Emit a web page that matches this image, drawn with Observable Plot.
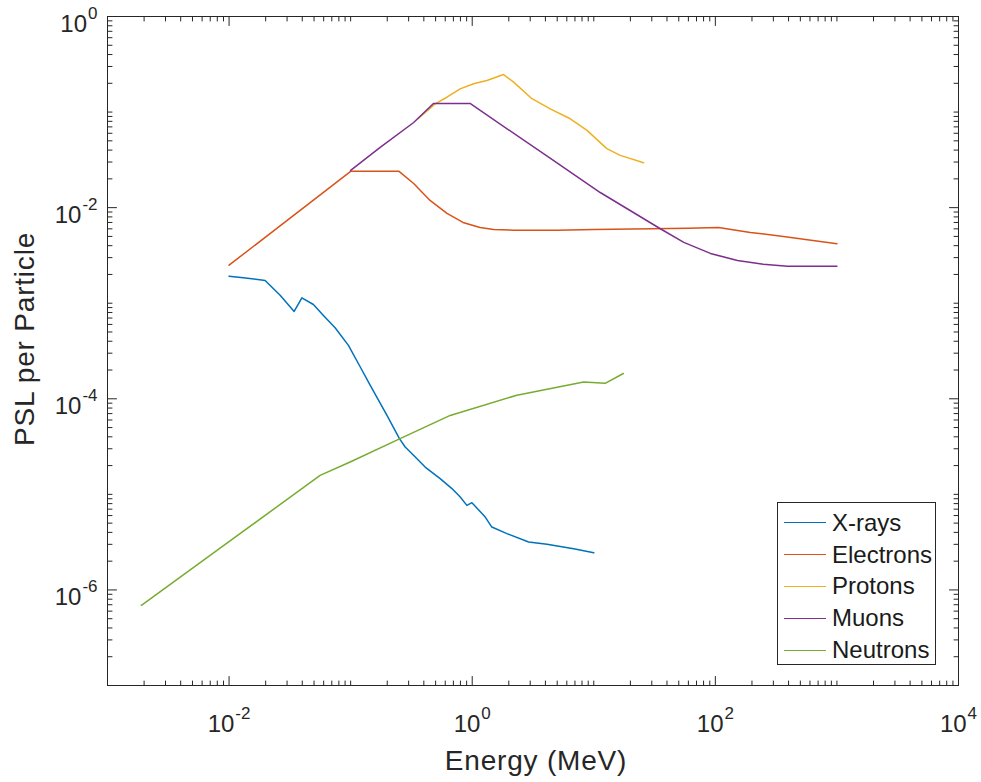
<!DOCTYPE html>
<html>
<head>
<meta charset="utf-8">
<script src="https://cdn.jsdelivr.net/npm/d3@7"></script>
<script src="https://cdn.jsdelivr.net/npm/@observablehq/plot@0.6"></script>
<style>
html, body { margin: 0; padding: 0; background: #fff; }
#wrap { position: relative; width: 981px; height: 782px; font-family: "Liberation Sans", Arial, Helvetica, sans-serif; }
#wrap svg { display: block; }
#legend { position: absolute; left: 777px; top: 502px; width: 159px; height: 163px; border: 1px solid #262626; background: #fff; padding-top: 4px; box-sizing: border-box; }
.row { height: 31.8px; display: flex; align-items: center; }
.swatch { width: 42px; height: 0; border-top: 1.5px solid; margin-left: 6px; }
.lab { margin-left: 6px; font-size: 24px; color: #1a1a1a; line-height: 1; }
</style>
</head>
<body>
<div id="wrap"></div>
<script>
// ---- series ----
const seriesNames = ["X-rays", "Electrons", "Protons", "Muons", "Neutrons"];
const seriesColors = ["#0072BD", "#D95319", "#EDB120", "#7E2F8E", "#77AC30"];

const xraysEnergy = [0.01, 0.0131, 0.0198, 0.0263, 0.0343, 0.0397, 0.0494, 0.0597, 0.0745, 0.0959, 0.120, 0.145, 0.199, 0.252, 0.281, 0.329, 0.410, 0.545, 0.681, 0.797, 0.904, 0.995, 1.28, 1.45, 1.93, 2.91, 4.12, 6.83, 10];
const xraysPSL = [1.92e-3, 1.85e-3, 1.73e-3, 1.21e-3, 8.2e-4, 1.14e-3, 9.7e-4, 7.45e-4, 5.54e-4, 3.62e-4, 2.15e-4, 1.38e-4, 6.7e-5, 3.83e-5, 3.13e-5, 2.56e-5, 1.93e-5, 1.46e-5, 1.15e-5, 9.4e-6, 7.67e-6, 8.18e-6, 5.78e-6, 4.55e-6, 3.88e-6, 3.17e-6, 3.0e-6, 2.70e-6, 2.45e-6];

const electronsEnergy = [0.01, 0.1, 0.25, 0.33, 0.45, 0.62, 0.84, 1.16, 1.5, 2.2, 5, 10, 30, 60, 106, 194, 363, 1000];
const electronsPSL = [2.5e-3, 0.024, 0.024, 0.0179, 0.0119, 0.0087, 0.0070, 0.0062, 0.0059, 0.0058, 0.0058, 0.0059, 0.0060, 0.0061, 0.0062, 0.0055, 0.0050, 0.0042];

const protonsEnergy = [0.36, 0.496, 0.619, 0.796, 1.026, 1.32, 1.81, 2.19, 3.10, 4.38, 6.41, 8.80, 12.8, 16.5, 25.7];
const protonsPSL = [0.0857, 0.122, 0.143, 0.175, 0.198, 0.214, 0.247, 0.206, 0.138, 0.108, 0.0851, 0.0643, 0.0414, 0.0352, 0.0295];

const muonsEnergy = [0.1, 0.175, 0.33, 0.48, 0.96, 4.4, 11.3, 35, 55, 91, 152, 248, 392, 1000];
const muonsPSL = [0.0245, 0.0427, 0.0778, 0.123, 0.123, 0.0327, 0.0144, 0.00605, 0.00433, 0.00332, 0.0028, 0.00255, 0.00243, 0.00243];

const neutronsEnergy = [0.0019, 0.0108, 0.0561, 0.099, 0.255, 0.659, 2.33, 8.25, 12.4, 17.5];
const neutronsPSL = [6.9e-7, 3.44e-6, 1.58e-5, 2.18e-5, 3.83e-5, 6.7e-5, 1.09e-4, 1.50e-4, 1.45e-4, 1.84e-4];

// ---- axes ----
const xDomain = [1e-3, 1e4];
const yDomain = [1e-7, 1];
const xMajorTicks = [1e-2, 1, 1e2, 1e4];
const yMajorTicks = [1e-6, 1e-4, 1e-2, 1];
const xTickLabels = ["10^-2", "10^0", "10^2", "10^4"];
const yTickLabels = ["10^-6", "10^-4", "10^-2", "10^0"];
const xLabel = "Energy (MeV)";
const yLabel = "PSL per Particle";

// ---- build table ----
const energies = [xraysEnergy, electronsEnergy, protonsEnergy, muonsEnergy, neutronsEnergy];
const psls = [xraysPSL, electronsPSL, protonsPSL, muonsPSL, neutronsPSL];
const rows = [];
seriesNames.forEach((name, s) => {
  energies[s].forEach((e, i) => rows.push({series: name, energy: e, psl: psls[s][i]}));
});

// minor ticks: 2..9 of every decade, plus the unlabeled decades
function minorTicks(lo, hi, majors) {
  const out = [];
  for (let e = lo; e < hi; e++) {
    for (let k = 1; k < 10; k++) {
      const v = +(k * Math.pow(10, e)).toPrecision(6);
      if (!majors.some(m => Math.abs(m - v) / v < 1e-9)) out.push(v);
    }
  }
  return out;
}
const xMinorTicks = minorTicks(-3, 4, xMajorTicks);
const yMinorTicks = minorTicks(-7, 0, yMajorTicks);

const axisColor = "#262626";
const tickShape = {draw(ctx, l) { ctx.moveTo(0, 0); ctx.lineTo(0, -l); }};
const vx = (vals, len) => [
  Plot.vector(vals, {x: d => d, frameAnchor: "bottom", length: len, rotate: 0, anchor: "start", shape: tickShape, stroke: axisColor, strokeWidth: 1}),
  Plot.vector(vals, {x: d => d, frameAnchor: "top", length: len, rotate: 180, anchor: "start", shape: tickShape, stroke: axisColor, strokeWidth: 1})
];
const vy = (vals, len) => [
  Plot.vector(vals, {y: d => d, frameAnchor: "left", length: len, rotate: 90, anchor: "start", shape: tickShape, stroke: axisColor, strokeWidth: 1}),
  Plot.vector(vals, {y: d => d, frameAnchor: "right", length: len, rotate: -90, anchor: "start", shape: tickShape, stroke: axisColor, strokeWidth: 1})
];

const chart = Plot.plot({
  width: 981,
  height: 782,
  marginLeft: 107,
  marginRight: 23,
  marginTop: 16,
  marginBottom: 97,
  style: {fontFamily: "'Liberation Sans', Arial, Helvetica, sans-serif", background: "#fff"},
  x: {type: "log", domain: xDomain, axis: null},
  y: {type: "log", domain: yDomain, axis: null},
  color: {domain: seriesNames, range: seriesColors},
  marks: [
    Plot.line(rows, {x: "energy", y: "psl", z: "series", stroke: "series", strokeWidth: 1.5}),
    Plot.frame({stroke: axisColor, strokeWidth: 1}),
    ...vx(xMajorTicks, 9),
    ...vx(xMinorTicks, 4.5),
    ...vy(yMajorTicks, 9),
    ...vy(yMinorTicks, 4.5),
    Plot.text(xMajorTicks, {x: d => d, text: (d, i) => xTickLabels[i], frameAnchor: "bottom", lineAnchor: "bottom", textAnchor: "middle", dy: 46, fontSize: 24, fill: axisColor}),
    Plot.text(yMajorTicks, {y: d => d, text: (d, i) => yTickLabels[i], frameAnchor: "left", lineAnchor: "bottom", textAnchor: "end", dx: -10, dy: 15, fontSize: 24, fill: axisColor}),
    Plot.text([xLabel], {text: d => d, frameAnchor: "bottom", lineAnchor: "bottom", textAnchor: "middle", dx: 3, dy: 84, fontSize: 28, fill: axisColor}),
    Plot.text([yLabel], {text: d => d, frameAnchor: "left", lineAnchor: "bottom", textAnchor: "middle", rotate: -90, dx: -74, dy: -12, fontSize: 28, fill: axisColor})
  ]
});

// superscript exponents in tick labels
chart.querySelectorAll("text").forEach(t => {
  const m = /^10\^(-?\d+)$/.exec(t.textContent);
  if (!m) return;
  t.textContent = "10";
  const s = document.createElementNS("http://www.w3.org/2000/svg", "tspan");
  s.setAttribute("dy", "-13");
  s.setAttribute("dx", "1");
  s.setAttribute("font-size", "17");
  s.textContent = m[1];
  t.appendChild(s);
});
chart.querySelectorAll("text").forEach(t => {
  if (t.textContent === xLabel || t.textContent === yLabel) t.style.letterSpacing = "0.8px";
});

const wrap = document.getElementById("wrap");
wrap.appendChild(chart);

// legend (inside axes, MATLAB style)
const legend = document.createElement("div");
legend.id = "legend";
seriesNames.forEach((name, i) => {
  const row = document.createElement("div");
  row.className = "row";
  const sw = document.createElement("div");
  sw.className = "swatch";
  sw.style.borderTopColor = seriesColors[i];
  const lab = document.createElement("span");
  lab.className = "lab";
  lab.textContent = name;
  row.appendChild(sw);
  row.appendChild(lab);
  legend.appendChild(row);
});
wrap.appendChild(legend);
</script>
</body>
</html>
